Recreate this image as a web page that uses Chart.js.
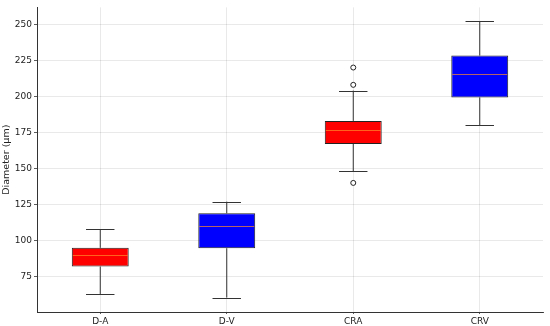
<!DOCTYPE html>
<html>
<head>
<meta charset="utf-8">
<script src="https://cdn.jsdelivr.net/npm/chart.js@4.4.1/dist/chart.umd.min.js"></script>
<style>
    html, body { margin: 0; padding: 0; background: #fff; }
    #wrap { width: 550px; height: 326px; }
</style>
</head>
<body>
<div id="wrap"><canvas id="boxChart"></canvas></div>
<script>
// Box plot of vessel diameters
const categories = ['D-A', 'D-V', 'CRA', 'CRV'];
const whiskerLow = [63, 60.5, 148, 180];
const q1 = [82, 94.7, 167, 199.3];
const medians = [89.7, 110, 177, 215.6];
const q3 = [95, 119, 183, 228.3];
const whiskerHigh = [108, 127, 204, 252];
const boxColors = ['#ff0000', '#0000ff', '#ff0000', '#0000ff'];
const outlierCats = ['CRA', 'CRA', 'CRA'];
const outlierValues = [220, 208, 140];
const yTicks = [75, 100, 125, 150, 175, 200, 225, 250];

const FONT = { family: 'DejaVu Sans', size: 9 };
const GRID = {
    color: 'rgba(0, 0, 0, 0.11)',
    lineWidth: 0.8,
    borderDash: [1.5, 2],
    tickColor: '#333',
    tickLength: 3,
    tickBorderDash: []
};

// whiskers, caps and medians drawn with the chart's own scales
const boxExtras = {
    id: 'boxExtras',
    afterDatasetsDraw(chart) {
        const { ctx, scales: { x, y } } = chart;
        const meta = chart.getDatasetMeta(0);
        ctx.save();
        categories.forEach((cat, i) => {
            const bar = meta.data[i];
            const cx = x.getPixelForValue(i);
            const half = bar.width / 2;
            const capHalf = half / 2;

            ctx.strokeStyle = '#333';
            ctx.lineWidth = 1;
            ctx.beginPath();
            ctx.moveTo(cx, y.getPixelForValue(q3[i]));
            ctx.lineTo(cx, y.getPixelForValue(whiskerHigh[i]));
            ctx.moveTo(cx, y.getPixelForValue(q1[i]));
            ctx.lineTo(cx, y.getPixelForValue(whiskerLow[i]));
            const yh = Math.round(y.getPixelForValue(whiskerHigh[i])) + 0.5;
            const yl = Math.round(y.getPixelForValue(whiskerLow[i])) + 0.5;
            ctx.moveTo(cx - capHalf, yh);
            ctx.lineTo(cx + capHalf, yh);
            ctx.moveTo(cx - capHalf, yl);
            ctx.lineTo(cx + capHalf, yl);
            ctx.stroke();

            // median
            const ym = Math.round(y.getPixelForValue(medians[i])) + 0.5;
            ctx.strokeStyle = 'rgba(255, 140, 40, 0.7)';
            ctx.beginPath();
            ctx.moveTo(cx - half + 1, ym);
            ctx.lineTo(cx + half - 1, ym);
            ctx.stroke();
        });
        ctx.restore();
    }
};

new Chart(document.getElementById('boxChart'), {
    type: 'bar',
    data: {
        labels: categories,
        datasets: [
            {
                label: 'IQR',
                data: q1.map((v, i) => [v, q3[i]]),
                backgroundColor: boxColors,
                borderColor: '#222',
                borderWidth: 1,
                borderSkipped: false,
                barPercentage: 0.45,
                categoryPercentage: 1.0,
                order: 2
            },
            {
                type: 'line',
                label: 'Outliers',
                data: outlierCats.map((c, i) => ({ x: c, y: outlierValues[i] })),
                showLine: false,
                pointStyle: 'circle',
                pointRadius: 2.5,
                pointBackgroundColor: '#fff',
                pointBorderColor: '#222',
                pointBorderWidth: 1,
                order: 1
            }
        ]
    },
    options: {
        responsive: true,
        maintainAspectRatio: false,
        animation: false,
        layout: { padding: { top: 6, right: 7, left: 0, bottom: 0 } },
        plugins: {
            legend: { display: false },
            tooltip: { enabled: false }
        },
        scales: {
            x: {
                offset: true,
                grid: Object.assign({}, GRID, { offset: false, tickLength: 2 }),
                border: { color: '#333', width: 1 },
                ticks: { color: '#222', font: FONT, padding: 2 },
                afterFit: scale => { scale.height = 14; }
            },
            y: {
                min: 50.5,
                max: 261.7,
                afterBuildTicks: scale => {
                    scale.ticks = yTicks.map(v => ({ value: v }));
                },
                grid: GRID,
                border: { color: '#333', width: 1 },
                ticks: { color: '#222', font: FONT, padding: 2 },
                title: {
                    display: true,
                    text: 'Diameter (µm)',
                    color: '#222',
                    font: { family: 'DejaVu Sans', size: 9.5 },
                    padding: { top: 1, bottom: 2 }
                },
                afterFit: scale => { scale.width = 37; }
            }
        }
    },
    plugins: [boxExtras]
});
</script>
</body>
</html>
